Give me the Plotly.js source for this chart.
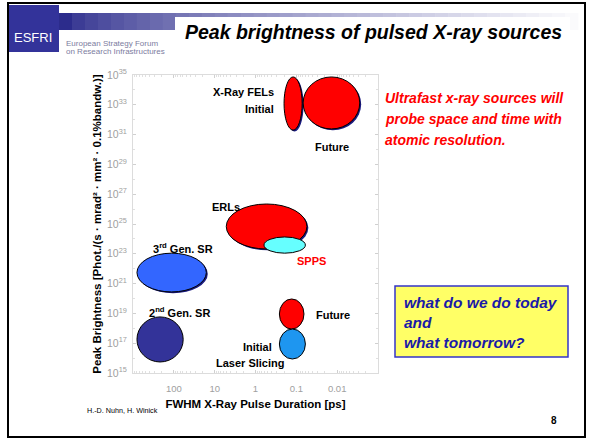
<!DOCTYPE html>
<html><head><meta charset="utf-8">
<script src="https://cdn.plot.ly/plotly-3.0.1.min.js"></script>
<style>html,body{margin:0;padding:0;background:#fff}#chart{width:592px;height:439px}</style>
</head><body><div id="chart"></div>
<script>
// ---- data ----
const sourceNames = ['X-Ray FEL initial','X-Ray FEL future','ERL','SPPS','3rd Gen. SR','2nd Gen. SR','Laser slicing future','Laser slicing initial'];
const durLong    = [0.2, 0.068, 5.2, 0.62, 800, 800, 0.26, 0.26];          // ps
const durShort   = [0.072, 0.0028, 0.055, 0.06, 16, 59, 0.065, 0.06];      // ps
const brightHigh = [7.4e34, 7.4e34, 2.2e26, 1.35e24, 1.1e23, 5.8e18, 9.3e19, 8.9e17];
const brightLow  = [2.0e31, 2.4e31, 2.1e23, 1.1e23, 2.75e20, 5.5e15, 8.9e17, 8.7e15];
const xTickVals  = [100, 10, 1, 0.1, 0.01];
const xTickText  = ['100', '10', '1', '0.1', '0.01'];
const yTickExps  = [35, 33, 31, 29, 27, 25, 23, 21, 19, 17, 15];

// ---- styles ----
const fills   = ['#ff0000','#ff0000','#ff0000','#66ffff','#3366ff','#333399','#ff0000','#1e96f0'];
const shadows = [true, true, true, false, true, false, false, false];
const FONT = 'Liberation Sans, Arial, sans-serif';
const W = 592, H = 439;
const px = v => v / W, py = v => 1 - v / H;
const L = Math.log10;

const shapes = [];
// outer slide border
shapes.push({type:'rect', xref:'paper', yref:'paper', x0:px(8), x1:px(585), y0:py(437), y1:py(3), line:{color:'#000', width:2}, layer:'below'});
// header gradient bar (stepped)
const gx0 = 59, gx1 = 578, steps = 40;
for (let i = 0; i < steps; i++) {
  const t = Math.pow(i / (steps - 1), 0.7);
  const c = [44 + (250 - 44) * t, 44 + (250 - 44) * t, 140 + (252 - 140) * t].map(Math.round);
  shapes.push({type:'rect', xref:'paper', yref:'paper', x0:px(gx0 + (gx1 - gx0) * i / steps), x1:px(gx0 + (gx1 - gx0) * (i + 1) / steps + 0.5),
    y0:py(30), y1:py(13), fillcolor:`rgb(${c[0]},${c[1]},${c[2]})`, line:{width:0}, layer:'below'});
}
// white title area
shapes.push({type:'rect', xref:'paper', yref:'paper', x0:px(175), x1:px(570), y0:py(50), y1:py(17), fillcolor:'#fff', line:{width:0}, layer:'below'});
// ESFRI logo square
shapes.push({type:'rect', xref:'paper', yref:'paper', x0:px(9), x1:px(59), y0:py(52), y1:py(5), fillcolor:'#33339a', line:{width:0}, layer:'below'});
// yellow box
shapes.push({type:'rect', xref:'paper', yref:'paper', x0:px(395), x1:px(568), y0:py(357), y1:py(286), fillcolor:'#ffff66', line:{color:'#3535c8', width:1.5}});

// ellipses drawn from data through the axes (axes are in log10 units)
const dxs = 0.035, dys = 0.09; // shadow offset in axis units
for (let i = 0; i < sourceNames.length; i++) {
  const x0 = L(durLong[i]), x1 = L(durShort[i]), y0 = L(brightLow[i]), y1 = L(brightHigh[i]);
  if (shadows[i]) shapes.push({type:'circle', xref:'x', yref:'y', x0:x0 - dxs, x1:x1 - dxs, y0:y0 - dys, y1:y1 - dys, fillcolor:'#1a1a80', line:{width:0}});
  shapes.push({type:'circle', xref:'x', yref:'y', x0:x0, x1:x1, y0:y0, y1:y1, fillcolor:fills[i], line:{color:'#000', width:1}});
}

const ann = [];
const A = (x, y, text, o) => ann.push(Object.assign({xref:'paper', yref:'paper', x:px(x), y:py(y), text, showarrow:false,
  xanchor:'left', yanchor:'middle', font:{family:FONT, size:11, color:'#000'}}, o || {}));
// header texts
A(33, 37, 'ESFRI', {xanchor:'center', font:{family:FONT, size:13, color:'#fff'}});
A(64, 43, 'European Strategy Forum', {font:{family:FONT, size:8, color:'#7c7ca0'}});
A(64, 51, 'on Research Infrastructures', {font:{family:FONT, size:8, color:'#7c7ca0'}});
A(183, 32, '<b><i>Peak brightness of pulsed X-ray sources</i></b>', {font:{family:FONT, size:19.5, color:'#000'}});
// labels on plot
A(276, 92, '<b>X-Ray FELs</b>', {xanchor:'right'});
A(276, 109, '<b>Initial</b>', {xanchor:'right'});
A(332, 147, '<b>Future</b>', {xanchor:'center'});
A(210, 207, '<b>ERLs</b>');
A(312, 261, '<b>SPPS</b>', {xanchor:'center', font:{family:FONT, size:11, color:'#ff0000'}});
A(151, 248, '<b>3<sup>rd</sup> Gen. SR</b>');
A(147, 312, '<b>2<sup>nd</sup> Gen. SR</b>');
A(314, 315, '<b>Future</b>');
A(274, 347, '<b>Initial</b>', {xanchor:'right'});
A(250, 363, '<b>Laser Slicing</b>', {xanchor:'center'});
// red statement
const redLines = ['Ultrafast x-ray sources will', 'probe space and time with', 'atomic resolution.'];
redLines.forEach((t, i) => A(383, 98 + i * 21, '<b><i>' + t + '</i></b>', {font:{family:FONT, size:14, color:'#ff0000'}}));
// yellow box text
const boxLines = ['what do we do today', 'and', 'what tomorrow?'];
boxLines.forEach((t, i) => A(402, 302 + i * 20, '<b><i>' + t + '</i></b>', {font:{family:FONT, size:15.5, color:'#1a1aa8'}}));
// footer
A(85, 410, 'H.-D. Nuhn, H. Winick', {font:{family:FONT, size:7.2, color:'#000'}});
A(554, 420, '<b>8</b>', {xanchor:'center', font:{family:FONT, size:10, color:'#000'}});

// minor ticks positions (axis geometry, not data)
const xMinor = [], yMinor = [];
for (let e = -3; e < 3; e++) for (let k = 2; k <= 9; k++) xMinor.push(L(k * Math.pow(10, e)));
for (let e = 15; e <= 35; e++) yMinor.push(e);

const trace = {
  x: sourceNames.map((_, i) => (L(durLong[i]) + L(durShort[i])) / 2),
  y: sourceNames.map((_, i) => (L(brightLow[i]) + L(brightHigh[i])) / 2),
  text: sourceNames, type:'scatter', mode:'markers', marker:{opacity:0, size:1}, hoverinfo:'text', showlegend:false
};

const layout = {
  width: W, height: H, margin:{l:0, r:0, t:0, b:0}, paper_bgcolor:'#fff', plot_bgcolor:'#fff', showlegend:false,
  font:{family:FONT},
  xaxis:{domain:[px(133), px(378)], range:[3, -3], showgrid:false, zeroline:false, showline:true, mirror:'ticks',
    linecolor:'#dcdcdc', linewidth:1, ticks:'inside', ticklen:3, tickcolor:'#d0d0d0',
    tickmode:'array', tickvals:xTickVals.map(L), ticktext:xTickText, ticklabelstandoff:7,
    tickfont:{family:FONT, size:9.5, color:'#a0a0a0'},
    minor:{tickmode:'array', tickvals:xMinor, ticks:'inside', ticklen:2, tickcolor:'#e0e0e0'},
    title:{text:'<b>FWHM X-Ray Pulse Duration [ps]</b>', font:{family:FONT, size:11.5, color:'#000'}, standoff:6}},
  yaxis:{domain:[py(373), py(75)], range:[15, 35], showgrid:false, zeroline:false, showline:true, mirror:'ticks',
    linecolor:'#dcdcdc', linewidth:1, ticks:'inside', ticklen:3, tickcolor:'#d0d0d0',
    tickmode:'array', tickvals:yTickExps, ticktext:yTickExps.map(e => '10<sup>' + e + '</sup>'), ticklabelstandoff:3,
    tickfont:{family:FONT, size:10.5, color:'#a0a0a0'},
    minor:{tickmode:'array', tickvals:yMinor, ticks:'inside', ticklen:2, tickcolor:'#e0e0e0'},
    title:{text:'<b>Peak Brightness [Phot./(s · mrad² · mm² · 0.1%bandw.)]</b>', font:{family:FONT, size:11.5, color:'#000'}, standoff:3}},
  shapes, annotations: ann
};
Plotly.newPlot('chart', [trace], layout, {displayModeBar:false, staticPlot:true});
</script></body></html>
